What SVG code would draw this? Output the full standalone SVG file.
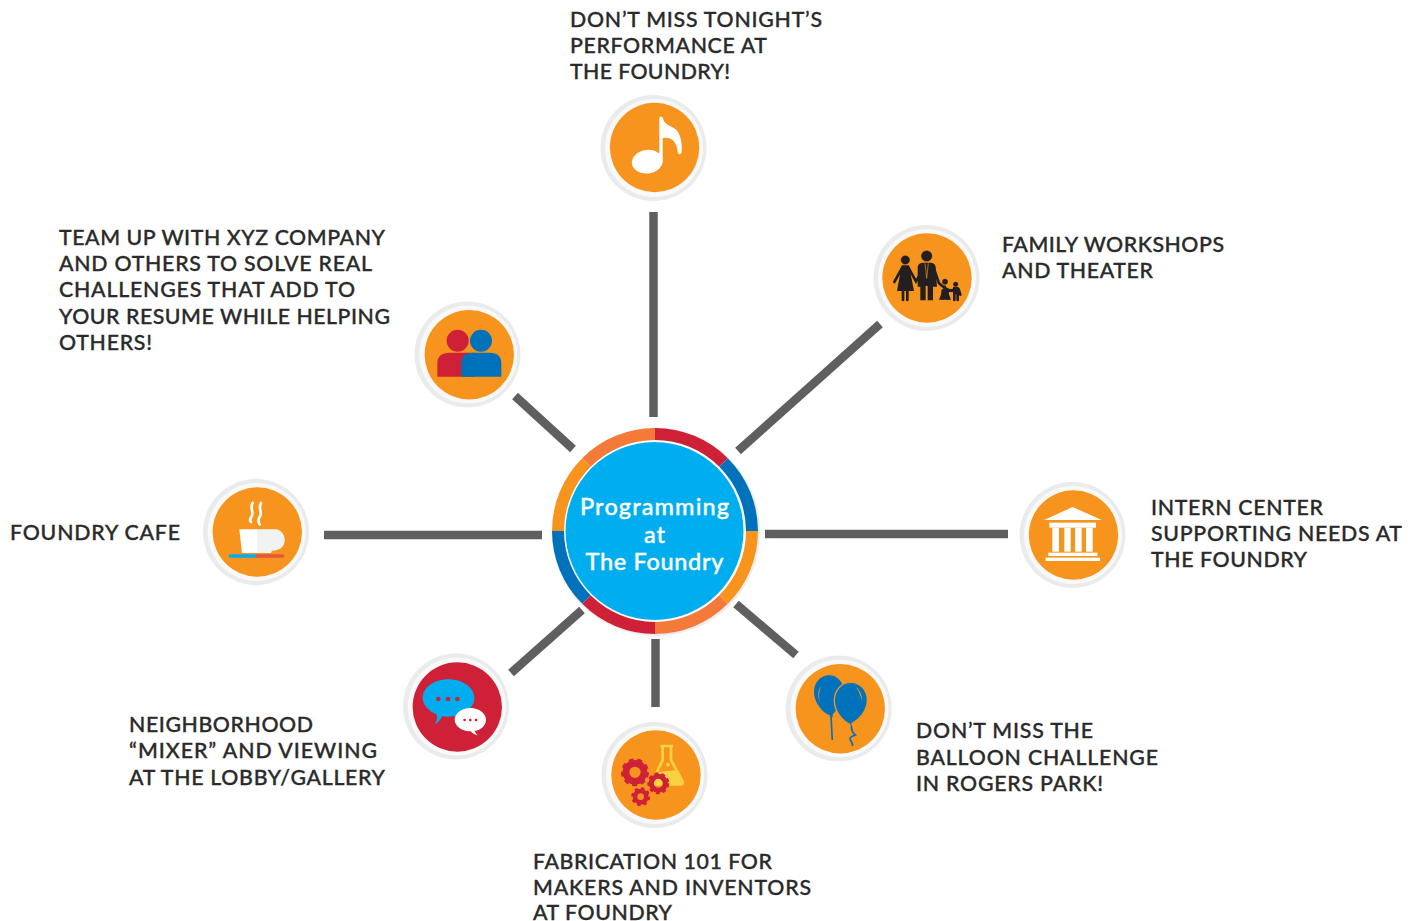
<svg xmlns="http://www.w3.org/2000/svg" width="1418" height="921" viewBox="0 0 1418 921">
<style>
.lbl{font-family:"Lato","Liberation Sans",sans-serif;font-size:21.3px;font-weight:500;fill:#2a2a2a;stroke:#2a2a2a;stroke-width:.35px}
.ctr{font-family:"Lato","Liberation Sans",sans-serif;font-size:23.5px;font-weight:500;fill:#fff;stroke:#fff;stroke-width:.35px;text-anchor:middle}
.con{stroke:#5f5f5f;stroke-width:8.5;fill:none}
.halo{fill:#e9ebec}
.halo2{fill:#f9f9f9}
.or{fill:#f7941d}
.red{fill:#ce2137}
.blue{fill:#0072bc}
</style>
<rect width="1418" height="921" fill="#fff"/>
<g id="connectors" class="con">
<line x1="653.5" y1="212" x2="653.5" y2="417"/>
<line x1="880" y1="324" x2="738" y2="451"/>
<line x1="765" y1="534" x2="1008" y2="534"/>
<line x1="736" y1="604" x2="796" y2="655"/>
<line x1="655.5" y1="639" x2="655.5" y2="707"/>
<line x1="582" y1="610" x2="511" y2="673"/>
<line x1="324" y1="535" x2="542" y2="535"/>
<line x1="515" y1="396" x2="573" y2="449"/>
</g>
<g id="hub">
<circle cx="656" cy="532" r="104" fill="#ececec"/>
<circle cx="655" cy="531" r="103" fill="#fff"/>
<path fill="#ce2137" d="M655 428A103 103 0 0 1 727.8 458.2L719.3 466.7A91 91 0 0 0 655 440Z"/>
<path fill="#0072bc" d="M727.8 458.2A103 103 0 0 1 758 531H746A91 91 0 0 0 719.3 466.7Z"/>
<path fill="#f7941d" d="M758 531A103 103 0 0 1 727.8 603.8L719.3 595.3A91 91 0 0 0 746 531Z"/>
<path fill="#f47a3a" d="M727.8 603.8A103 103 0 0 1 655 634V622A91 91 0 0 0 719.3 595.3Z"/>
<path fill="#ce2137" d="M655 634A103 103 0 0 1 582.2 603.8L590.7 595.3A91 91 0 0 0 655 622Z"/>
<path fill="#0072bc" d="M582.2 603.8A103 103 0 0 1 552 531H564A91 91 0 0 0 590.7 595.3Z"/>
<path fill="#f7941d" d="M552 531A103 103 0 0 1 582.2 458.2L590.7 466.7A91 91 0 0 0 564 531Z"/>
<path fill="#f47a3a" d="M582.2 458.2A103 103 0 0 1 655 428V440A91 91 0 0 0 590.7 466.7Z"/>
<circle cx="654.5" cy="531" r="89" fill="#00aeef"/>
<text class="ctr" x="654.5" y="515" textLength="149">Programming</text>
<text class="ctr" x="654.5" y="543" textLength="21">at</text>
<text class="ctr" x="654.5" y="570" textLength="138">The Foundry</text>
</g>
<g id="node-music">
<circle class="halo" cx="653.5" cy="148" r="53"/><circle class="halo2" cx="654" cy="148" r="49"/><circle class="or" cx="654.6" cy="147.5" r="44.7"/>
<g fill="#fff"><ellipse cx="647.3" cy="161.7" rx="15.5" ry="11.8" transform="rotate(-8 647.3 161.7)"/>
<path d="M659.3 118Q659.3 116.5 661 116.5Q662.7 116.5 662.8 118Q664 124 672 127Q681.5 131 681.8 148L681.5 153Q680 155 678 153.5Q677 142 671 139Q667 137 662.7 138V161H659.3Z"/></g>
</g>
<g id="node-family">
<circle class="halo" cx="926.5" cy="278" r="53"/><circle class="halo2" cx="927" cy="278" r="49"/><circle class="or" cx="927" cy="278" r="44.7"/>
<g transform="translate(865 220) scale(.3333)" fill="#231f20" stroke="#231f20">
<circle cx="185" cy="108" r="16"/><circle cx="121" cy="120" r="13"/><circle cx="240" cy="185" r="8"/><circle cx="272" cy="193" r="7"/>
<path stroke="none" d="M110 136H132L147 213H96Z"/>
<path fill="none" stroke-width="8" stroke-linecap="round" d="M112 142L88 186M130 142L153 184L168 160M114 212V240M127 212V240M205 140L222 190L240 205M240 205L256 212L272 208M233 236V212M248 236V212M268 210V240M278 210V240M281 208L286 224"/>
<path stroke="none" d="M172 128H198Q212 130 212 142L216 200H204V241H188V198H182V241H166V200H158V140Q160 130 172 128Z"/>
<path stroke="none" d="M240 193L258 239H222Z"/><rect x="264" y="201" width="17" height="22" stroke="none"/>
<path stroke="#f7941d" stroke-width="2" fill="none" d="M180 130L185 175L190 130"/>
</g>
</g>
<g id="node-intern">
<circle class="halo" cx="1072.5" cy="535" r="53"/><circle class="halo2" cx="1073" cy="535" r="49"/><circle class="or" cx="1073.5" cy="535" r="44.7"/>
<g transform="translate(1010 475) scale(.3333)" fill="#fff">
<path d="M188 96L275 135H102Z"/><rect x="118" y="143" width="140" height="15"/>
<rect x="127" y="158" width="20" height="72"/><rect x="163" y="158" width="19" height="72"/><rect x="195" y="158" width="20" height="72"/><rect x="228" y="158" width="20" height="72"/>
<rect x="115" y="233" width="147" height="10"/><rect x="107" y="248" width="163" height="10"/>
</g>
</g>
<g id="node-balloon">
<circle class="halo" cx="838.7" cy="708.5" r="53"/><circle class="halo2" cx="839.5" cy="708.5" r="49"/><circle class="or" cx="840.3" cy="708.7" r="44.7"/>
<g transform="translate(780 650) scale(.3333)">
<path class="blue" d="M148 76C120 76 101 100 102 128C103 160 130 190 150 196L148 200H160L157 195C170 180 190 150 190 120C190 95 170 76 148 76Z"/>
<path fill="none" stroke="#0072bc" stroke-width="5" d="M153 198L157 270"/>
<path class="blue" stroke="#f7941d" stroke-width="4" d="M212 97C184 97 162 122 163 155C165 190 192 215 208 222L205 226H220L216 221C235 210 262 185 262 150C262 120 240 97 212 97Z"/>
<path fill="none" stroke="#0072bc" stroke-width="5" d="M214 226C214 240 218 250 226 255C218 258 208 262 210 268C213 273 218 278 218 288"/>
<path class="or" d="M124 108C114 118 112 140 120 158C116 140 116 125 124 108ZM228 112C240 120 246 135 247 155C242 140 238 125 228 112Z"/>
</g>
</g>
<g id="node-fabrication">
<circle class="halo" cx="654.5" cy="775" r="53"/><circle class="halo2" cx="655" cy="775" r="49"/><circle class="or" cx="656" cy="775" r="44.7"/>
<g transform="translate(595 715) scale(.3333)">
<path fill="none" stroke="#f8d23e" stroke-width="8" stroke-linejoin="round" d="M196 93H234M203 93V135L172 200Q172 208 180 208H258Q266 208 262 198L228 135V93"/>
<path fill="#f8d23e" d="M187 172L245 165L260 204H176Z"/>
<circle cx="219" cy="149" r="6" fill="#f8d23e"/>
<g fill="none" stroke="#ce2137">
<circle cx="120" cy="172" r="27" stroke-width="20"/><circle cx="120" cy="172" r="36" stroke-width="12" stroke-dasharray="14 11.1"/>
<circle cx="190" cy="205" r="21" stroke-width="15"/><circle cx="190" cy="205" r="28" stroke-width="10" stroke-dasharray="11 9"/>
<circle cx="137" cy="245" r="17" stroke-width="14"/><circle cx="137" cy="245" r="24" stroke-width="9" stroke-dasharray="10 8.85"/>
</g>
</g>
</g>
<g id="node-mixer">
<circle class="halo" cx="456" cy="706.5" r="53"/><circle class="halo2" cx="456.7" cy="706.5" r="49"/><circle class="red" cx="457.3" cy="707" r="44.7"/>
<g transform="translate(397 648) scale(.3333)">
<path fill="#00aeef" d="M154 94C197 94 232 119 232 150C232 182 197 206 154 206C147 206 141 206 135 205C131 215 123 226 113 228C119 220 121 210 120 200C96 190 77 172 77 150C77 119 111 94 154 94Z"/>
<g class="red"><circle cx="124" cy="153" r="7"/><circle cx="153" cy="153" r="7"/><circle cx="181" cy="153" r="7"/></g>
<path fill="#fff" d="M220 180C246 180 267 196 267 215C267 232 252 246 233 249C235 254 239 259 243 262C234 261 226 256 222 250C195 250 173 234 173 215C173 196 194 180 220 180Z"/>
<g class="red"><circle cx="203" cy="216" r="4"/><circle cx="220" cy="216" r="4"/><circle cx="237" cy="216" r="4"/></g>
</g>
</g>
<g id="node-cafe">
<circle class="halo" cx="256" cy="532" r="53"/><circle class="halo2" cx="256.7" cy="532" r="49"/><circle class="or" cx="257.3" cy="532" r="44.7"/>
<g transform="translate(197 472) scale(.3333)">
<path fill="none" stroke="#fff" stroke-width="8" stroke-linecap="round" d="M167 93C157 110 173 120 163 135C158 142 159 147 162 150M192 93C182 110 198 120 188 135C183 142 184 150 188 157"/>
<path fill="#fff" d="M127 172H180V243H135Z"/>
<path fill="#f1f2f2" d="M180 172H235C252 172 263 187 263 205C263 224 250 236 225 236L222 243H180Z"/>
<path fill="none" stroke="#00aeef" stroke-width="10" stroke-linecap="round" d="M100 252H180"/>
<path fill="none" stroke="#e2583e" stroke-width="10" stroke-linecap="round" d="M180 252H257"/>
</g>
</g>
<g id="node-team">
<circle class="halo" cx="467.5" cy="354.5" r="53"/><circle class="halo2" cx="468.3" cy="354.5" r="49"/><circle class="or" cx="469.3" cy="354.7" r="44.7"/>
<g transform="translate(408 295) scale(.3333)">
<circle class="red" cx="149" cy="137" r="33"/><circle class="blue" cx="219" cy="137" r="33"/>
<path class="red" d="M88 245V205Q88 173 125 173H200V245Z"/>
<path class="blue" d="M160 245V205Q160 173 195 173H245Q280 173 280 205V245Z"/>
</g>
</g>
<g id="labels">
<text class="lbl" x="570" y="27" textLength="252">DON’T MISS TONIGHT’S</text>
<text class="lbl" x="570" y="53" textLength="197">PERFORMANCE AT</text>
<text class="lbl" x="570" y="79" textLength="160">THE FOUNDRY!</text>
<text class="lbl" x="59" y="245" textLength="326">TEAM UP WITH XYZ COMPANY</text>
<text class="lbl" x="59" y="271" textLength="313">AND OTHERS TO SOLVE REAL</text>
<text class="lbl" x="59" y="297" textLength="296">CHALLENGES THAT ADD TO</text>
<text class="lbl" x="59" y="324" textLength="331">YOUR RESUME WHILE HELPING</text>
<text class="lbl" x="59" y="350" textLength="93">OTHERS!</text>
<text class="lbl" x="1002" y="252" textLength="222">FAMILY WORKSHOPS</text>
<text class="lbl" x="1002" y="278" textLength="151">AND THEATER</text>
<text class="lbl" x="1151" y="515" textLength="172">INTERN CENTER</text>
<text class="lbl" x="1151" y="541" textLength="251">SUPPORTING NEEDS AT</text>
<text class="lbl" x="1151" y="567" textLength="156">THE FOUNDRY</text>
<text class="lbl" x="916" y="738" textLength="177">DON’T MISS THE</text>
<text class="lbl" x="916" y="765" textLength="242">BALLOON CHALLENGE</text>
<text class="lbl" x="916" y="791" textLength="187">IN ROGERS PARK!</text>
<text class="lbl" x="533" y="869" textLength="239">FABRICATION 101 FOR</text>
<text class="lbl" x="533" y="895" textLength="278">MAKERS AND INVENTORS</text>
<text class="lbl" x="533" y="920" textLength="139">AT FOUNDRY</text>
<text class="lbl" x="129" y="732" textLength="184">NEIGHBORHOOD</text>
<text class="lbl" x="129" y="758" textLength="248">“MIXER” AND VIEWING</text>
<text class="lbl" x="129" y="785" textLength="256">AT THE LOBBY/GALLERY</text>
<text class="lbl" x="10" y="540" textLength="170">FOUNDRY CAFE</text>
</g>
</svg>
